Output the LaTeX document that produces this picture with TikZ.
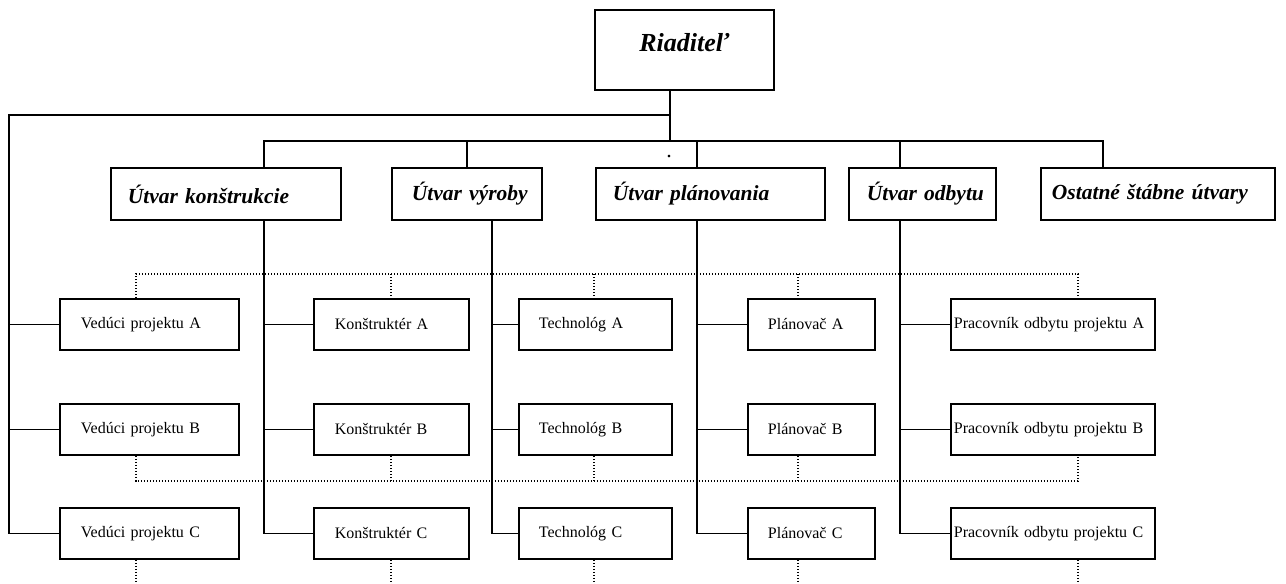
\documentclass[tikz,border=0pt]{standalone}
\usepackage{fontspec}
\setmainfont{Liberation Serif}
\begin{document}
\begin{tikzpicture}[x=1pt,y=-1pt,
  box/.style={draw, line width=1.8pt, anchor=north west, align=left, inner ysep=0pt,
    execute at begin node={\leavevmode\hbox\bgroup}, execute at end node={\egroup}},
  chief/.style={draw, line width=1.8pt, anchor=north west, inner sep=0pt,
    font=\fontsize{26}{29}\selectfont\bfseries\itshape},
  dept/.style={box, minimum height=52pt, font=\fontsize{21.5}{24}\selectfont\bfseries\itshape},
  unit/.style={box, minimum height=51pt, font=\fontsize{16}{18}\selectfont},
  link/.style={line width=1.8pt},
  dotlink/.style={line width=1.4pt, dash pattern=on 1.4pt off 1.6pt}]
\useasboundingbox (0,0) rectangle (1286,584);

% head of the organisation
\node[chief, minimum width=179pt, minimum height=80pt, text depth=14pt] (dir) at (594,9) {Riaditeľ};

% departments
\node[dept, inner xsep=17pt, text width=196pt] (kon) at (110,167) {Útvar konštrukcie};
\node[dept, inner xsep=20pt, text width=110pt] (vyr) at (391,167) {Útvar výroby};
\node[dept, inner xsep=17pt, text width=195pt] (pla) at (595,167) {Útvar plánovania};
\node[dept, inner xsep=18pt, text width=111pt] (odb) at (848,167) {Útvar odbytu};
\node[dept, inner xsep=11pt, text width=212pt] (ost) at (1040,167) {Ostatné štábne útvary};

% project staff, three rows
\foreach \r/\y in {A/298, B/403, C/507} {
  \node[unit, inner xsep=21pt, text width=137pt] (ved\r) at (59,\y)  {Vedúci projektu \r};
  \node[unit, inner xsep=21pt, text width=113pt] (kns\r) at (313,\y) {Konštruktér \r};
  \node[unit, inner xsep=20pt, text width=113pt] (tec\r) at (518,\y) {Technológ \r};
  \node[unit, inner xsep=20pt, text width=87pt]  (pln\r) at (747,\y) {Plánovač \r};
  \node[unit, inner xsep=3pt,  text width=198pt] (pra\r) at (950,\y) {Pracovník odbytu projektu \r};
}

\node[inner sep=0pt, font=\fontsize{22}{22}\selectfont] (mark) at (669,157) {.};

% line positions
\coordinate (hub)  at (670,115);
\coordinate (junc) at (670,141);
\coordinate (lx)   at (9,115);
\coordinate (kx)   at (264,0);
\coordinate (vx)   at (467,0);
\coordinate (vxb)  at (492,0);
\coordinate (px)   at (697,0);
\coordinate (ox)   at (900,0);
\coordinate (sx)   at (1103,0);
\coordinate (d1)   at (136,0);
\coordinate (d2)   at (391,0);
\coordinate (d3)   at (594,0);
\coordinate (d4)   at (798,0);
\coordinate (d5)   at (1078,0);
\coordinate (dtop) at (0,274);
\coordinate (dbot) at (0,481);
\coordinate (dend) at (0,584);

% line authority
\draw[link] (dir.south -| hub) -- (junc);
\draw[link] (hub) -- (lx) -- (lx |- vedC.west) -- (vedC.west);
\foreach \r in {A,B} \draw[link] (lx |- ved\r.west) -- (ved\r.west);
\draw[link] (kon.north -| kx) -- (kx |- junc) -- (sx |- junc) -- (ost.north -| sx);
\foreach \dn/\tx in {vyr/vx, pla/px, odb/ox} \draw[link] (\tx |- junc) -- (\dn.north -| \tx);

\foreach \dn/\un/\tx in {kon/kns/kx, vyr/tec/vxb, pla/pln/px, odb/pra/ox} {
  \draw[link] (\dn.south -| \tx) -- (\tx |- \un C.west) -- (\un C.west);
  \foreach \r in {A,B} \draw[link] (\tx |- \un\r.west) -- (\un\r.west);
}

% project links
\draw[dotlink] (vedA.north -| d1) -- (d1 |- dtop) -- (d5 |- dtop) -- (praA.north -| d5);
\draw[dotlink] (vedB.south -| d1) -- (d1 |- dbot) -- (d5 |- dbot) -- (praB.south -| d5);
\foreach \un/\tx in {kns/d2, tec/d3, pln/d4} {
  \draw[dotlink] (\tx |- dtop) -- (\un A.north -| \tx);
  \draw[dotlink] (\tx |- dbot) -- (\un B.south -| \tx);
}
\foreach \un/\tx in {ved/d1, kns/d2, tec/d3, pln/d4, pra/d5}
  \draw[dotlink] (\un C.south -| \tx) -- (\tx |- dend);
\end{tikzpicture}
\end{document}
